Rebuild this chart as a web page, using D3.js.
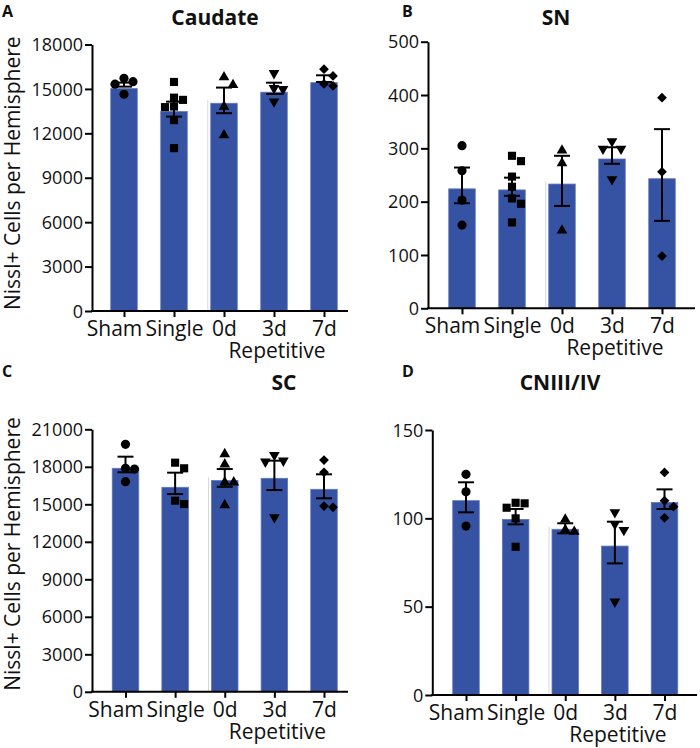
<!DOCTYPE html>
<html><head><meta charset="utf-8">
<script src="https://cdn.jsdelivr.net/npm/d3@7"></script>
<style>body{margin:0;background:#fff} text{font-family:"Open Sans",sans-serif;fill:#111}</style>
</head><body>
<svg id="c" width="700" height="748"></svg>
<script>
const categories = ["Sham", "Single", "0d", "3d", "7d"];
const groupLabel = "Repetitive";
const yAxisTitle = "Nissl+ Cells per Hemisphere";

// Panel A: Caudate
const caudateMean = [15020, 13470, 14030, 14780, 15420];
const caudateHi   = [15425, 14140, 15090, 15420, 15920];
const caudateLo   = [15155, 13130, 13360, 14660, 15470];
const caudatePoints = [
  [15720, 15490, 15320, 14640],
  [15470, 14410, 14260, 13770, 13810, 12890, 11000],
  [15270, 15790, 13810, 11880],
  [16060, 15050, 14980, 14140],
  [16330, 15880, 15340, 15200]
];
const caudateTicks = [0, 3000, 6000, 9000, 12000, 15000, 18000];

// Panel B: SN
const snMean = [224, 222, 233, 280, 243];
const snHi   = [264, 245, 286, 302, 336];
const snLo   = [197, 211, 192, 271, 164];
const snPoints = [
  [305, 258, 203, 156],
  [286, 276, 247, 228, 206, 196, 161],
  [296, 272, 146],
  [299, 299, 313, 242],
  [395, 256, 98]
];
const snTicks = [0, 100, 200, 300, 400, 500];

// Panel C: SC
const scMean = [17880, 16360, 16900, 17080, 16200];
const scHi   = [18810, 17530, 17820, 18490, 17400];
const scLo   = [17560, 15820, 16400, 16140, 15480];
const scPoints = [
  [19800, 17880, 17820, 16810],
  [18330, 17880, 15290, 15020],
  [19020, 18200, 16760, 16760, 14940],
  [18940, 18490, 18410, 13960],
  [18540, 17560, 14760, 14860]
];
const scTicks = [0, 3000, 6000, 9000, 12000, 15000, 18000, 21000];

// Panel D: CNIII/IV
const cnMean = [110, 99.4, 93.8, 84.3, 109];
const cnHi   = [120.4, 105.3, 97.2, 98.1, 116.4];
const cnLo   = [103.4, 96.6, 91.5, 74.5, 105.3];
const cnPoints = [
  [124.9, 115, 95.6],
  [108.5, 108.8, 106, 100, 83.9],
  [99.4, 92.4, 93.4],
  [103.4, 96.8, 93.4, 52.8],
  [126, 110, 106.6, 100.3]
];
const cnTicks = [0, 50, 100, 150];

const panels = [
  {letter:"A", title:"Caudate", mean:caudateMean, hi:caudateHi, lo:caudateLo, pts:caudatePoints, ticks:caudateTicks,
   ax:92, yTop:44.5, yBot:311, xEnd:348, c0:124, c4:324, tx:215, ty:25, lx:2, ly:17, ylab:true},
  {letter:"B", title:"SN", mean:snMean, hi:snHi, lo:snLo, pts:snPoints, ticks:snTicks,
   ax:428, yTop:41.7, yBot:308.3, xEnd:695, c0:462, c4:662, tx:556, ty:25, lx:402, ly:17, ylab:false},
  {letter:"C", title:"SC", mean:scMean, hi:scHi, lo:scLo, pts:scPoints, ticks:scTicks,
   ax:92, yTop:429.3, yBot:691.8, xEnd:348, c0:125.5, c4:324, tx:284, ty:390, lx:2, ly:377, ylab:true},
  {letter:"D", title:"CNIII/IV", mean:cnMean, hi:cnHi, lo:cnLo, pts:cnPoints, ticks:cnTicks,
   ax:432.3, yTop:430, yBot:695, xEnd:697, c0:466, c4:664.5, tx:560, ty:390, lx:402, ly:377, ylab:false}
];

const svg = d3.select("#c");
const barColor = "#3652a2";
const shapes = [
  d3.symbol().type(d3.symbolCircle).size(66),
  d3.symbol().type(d3.symbolSquare).size(66),
  d3.symbol().type(d3.symbolTriangle).size(50),
  d3.symbol().type(d3.symbolTriangle).size(50),
  d3.symbol().type(d3.symbolSquare).size(48)
];
const rotations = [0, 0, 0, 180, 45];

function swarm(vals, y, cx) {
  const placed = [];
  const order = vals.map((v, i) => ({v, i, py: y(v)})).sort((a, b) => a.py - b.py);
  for (const p of order) {
    let k = 0;
    while (true) {
      const off = k === 0 ? 0 : (k % 2 ? 1 : -1) * Math.ceil(k / 2) * 9;
      const px = cx + off;
      if (!placed.some(q => Math.abs(q.px - px) < 8.5 && Math.abs(q.py - p.py) < 8.5)) {
        p.px = px; placed.push(p); break;
      }
      k++;
    }
  }
  return placed;
}

panels.forEach(P => {
  const g = svg.append("g");
  const y = d3.scaleLinear().domain([0, d3.max(P.ticks)]).range([P.yBot, P.yTop]);
  const x = d3.scalePoint().domain(categories).range([P.c0, P.c4]);
  const bw = 26.5;

  // panel letter & title
  g.append("text").attr("x", P.lx).attr("y", P.ly).attr("font-size", 16).attr("font-weight", 700).text(P.letter);
  g.append("text").attr("x", P.tx).attr("y", P.ty).attr("text-anchor", "middle")
    .attr("font-size", 21).attr("font-weight", 700).text(P.title);

  // faint separator left of 0d bar
  const i0 = categories.indexOf("0d");
  g.append("line").attr("x1", x("0d") - bw / 2 - 3).attr("x2", x("0d") - bw / 2 - 3)
    .attr("y1", y(P.mean[i0]) - 3).attr("y2", y(0)).attr("stroke", "#d3d7ec").attr("stroke-width", 1);

  // bars
  g.selectAll("rect.bar").data(categories).join("rect").attr("class", "bar")
    .attr("x", c => x(c) - bw / 2).attr("width", bw)
    .attr("y", (c, i) => y(P.mean[i])).attr("height", (c, i) => y(0) - y(P.mean[i]))
    .attr("fill", barColor).attr("stroke", "#6075bb").attr("stroke-width", 0.8);

  // points
  categories.forEach((c, ci) => {
    const pos = swarm(P.pts[ci], y, x(c));
    g.selectAll(null).data(pos).join("path")
      .attr("d", shapes[ci])
      .attr("transform", d => `translate(${d.px},${d.py}) rotate(${rotations[ci]})`)
      .attr("fill", "#000");
  });

  // error bars
  categories.forEach((c, ci) => {
    const eg = g.append("g").attr("stroke", "#000").attr("stroke-width", 2);
    eg.append("line").attr("x1", x(c)).attr("x2", x(c)).attr("y1", y(P.lo[ci])).attr("y2", y(P.hi[ci]));
    [P.lo[ci], P.hi[ci]].forEach(v => {
      eg.append("line").attr("x1", x(c) - 8).attr("x2", x(c) + 8).attr("y1", y(v)).attr("y2", y(v));
    });
  });

  // y axis
  const ya = g.append("g").attr("transform", `translate(${P.ax},0)`)
    .call(d3.axisLeft(y).tickValues(P.ticks).tickSize(7).tickSizeOuter(0).tickPadding(2).tickFormat(d3.format("d")));
  ya.select(".domain").attr("stroke", "#000").attr("stroke-width", 2);
  ya.selectAll(".tick line").attr("stroke", "#000").attr("stroke-width", 2);
  ya.selectAll(".tick text").attr("font-size", 18).attr("font-family", "Open Sans").attr("fill", "#111").attr("dy", "0.34em");

  // x axis line
  g.append("line").attr("x1", P.ax - 1).attr("x2", P.xEnd).attr("y1", y(0)).attr("y2", y(0))
    .attr("stroke", "#000").attr("stroke-width", 2);
  const xa = g.append("g").attr("transform", `translate(0,${y(0)})`)
    .call(d3.axisBottom(x).tickSize(6).tickPadding(4));
  xa.select(".domain").remove();
  xa.selectAll(".tick line").attr("stroke", "#000").attr("stroke-width", 2);
  xa.selectAll(".tick text").attr("font-size", 21).attr("font-family", "Open Sans").attr("fill", "#111")
    .attr("dx", (d, i) => i === 0 ? -10 : 0);

  g.append("text").attr("x", x("3d") + 3).attr("y", y(0) + 47).attr("text-anchor", "middle")
    .attr("font-size", 21).text(groupLabel);

  if (P.ylab) {
    g.append("text").attr("transform", `translate(20,${y(0) - 1}) rotate(-90)`)
      .attr("font-size", 21).attr("text-anchor", "start").text(yAxisTitle);
  }
});
</script>
</body></html>
